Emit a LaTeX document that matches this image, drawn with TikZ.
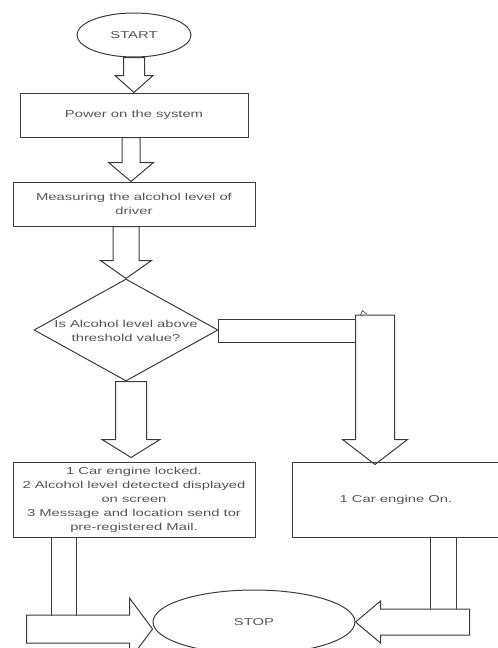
\documentclass[tikz,border=0pt]{standalone}
\usepackage{fontspec}
\setmainfont{Liberation Sans}[FakeStretch=1.48]
\usetikzlibrary{shapes.geometric,calc}
\definecolor{ln}{HTML}{3C3C3C}
\definecolor{tx}{HTML}{555555}
\tikzset{
  shp/.style={draw=ln, line width=1pt, text=tx, font=\fontsize{10}{14}\selectfont, align=center},
  boxn/.style={shp, rectangle, inner sep=0pt},
  ovaln/.style={shp, ellipse, inner sep=0pt},
  decn/.style={shp, diamond, inner sep=0pt},
  lbl/.style={text=tx, font=\fontsize{10}{14}\selectfont, align=center, inner sep=0pt},
  barrow/.style={draw=ln, line width=1pt, line join=miter},
  stem/.style={draw=ln, line width=1pt},
}
% block arrow pointing down: #1 tail point, #2 tip point, #3 shaft half width, #4 head half width, #5 head length
\newcommand{\bdown}[5]{\draw[barrow] let \p1=#1, \p2=#2 in
  (\x2-#3pt,\y1) -- (\x2-#3pt,\y2+#5pt) -- (\x2-#4pt,\y2+#5pt) -- (\x2,\y2)
  -- (\x2+#4pt,\y2+#5pt) -- (\x2+#3pt,\y2+#5pt) -- (\x2+#3pt,\y1) -- cycle;}
% block arrow pointing right
\newcommand{\bright}[5]{\draw[barrow] let \p1=#1, \p2=#2 in
  (\x1,\y2+#3pt) -- (\x2-#5pt,\y2+#3pt) -- (\x2-#5pt,\y2+#4pt) -- (\x2,\y2)
  -- (\x2-#5pt,\y2-#4pt) -- (\x2-#5pt,\y2-#3pt) -- (\x1,\y2-#3pt) -- cycle;}
% block arrow pointing left
\newcommand{\bleft}[5]{\draw[barrow] let \p1=#1, \p2=#2 in
  (\x1,\y2+#3pt) -- (\x2+#5pt,\y2+#3pt) -- (\x2+#5pt,\y2+#4pt) -- (\x2,\y2)
  -- (\x2+#5pt,\y2-#4pt) -- (\x2+#5pt,\y2-#3pt) -- (\x1,\y2-#3pt) -- cycle;}
\begin{document}
\begin{tikzpicture}[x=1pt,y=-1pt]
\useasboundingbox (0,0) rectangle (498,648);
\clip (0,0) rectangle (498,648);

\node[ovaln, minimum width=114pt, minimum height=44pt] (start) at (134,35) {START};
\node[boxn, minimum width=228pt, minimum height=44pt] (power) at (134,115) {Power on the system};
\node[boxn, minimum width=242pt, minimum height=44pt] (meas) at (134,204) {Measuring the alcohol level of\\driver};
\node[decn, minimum width=184pt, minimum height=102pt] (dec) at (126,330) {};
\node[lbl] (dectext) at ($(dec.center)+(0,1)$) {Is Alcohol level above\\threshold value?};
\node[boxn, minimum width=242pt, minimum height=75pt] (lbox) at (134,499.5)
  {1 Car engine locked.\\2 Alcohol level detected displayed\\on screen\\3 Message and location send tor\\pre-registered Mail.};
\node[boxn, minimum width=208pt, minimum height=75pt] (rbox) at (396,499.5) {1 Car engine On.};
\node[ovaln, minimum width=202pt, minimum height=64pt] (stop) at (254,622) {STOP};

\bdown{(start.south)}{(power.north)}{10.5}{19}{17}
\bdown{(power.south)}{($(meas.north)+(-3,0)$)}{9}{22.5}{19}
\bdown{(meas.south)}{(dec.north)}{13}{25.5}{18}
\bdown{(dec.south)}{($(lbox.north)+(-3,-4)$)}{15.5}{29}{18}

\draw[barrow] ($(dec.east)+(0,-11)$) rectangle ($(dec.east)+(137,12)$);
\bdown{($(dec.east)+(156.5,-15)$)}{($(rbox.north)+(-21,3)$)}{19.5}{32.5}{25}
\draw[draw=ln, line width=0.6pt] ($(dec.east)+(142,-15)$) -- ++(2,-4.5) -- ++(4,3.5);

\draw[stem] ($(lbox.south west)+(39,0)$) -- ++(0,78);
\draw[stem] ($(lbox.south west)+(64,0)$) -- ++(0,78);
\bright{($(lbox.south west)+(14,0)$)}{($(stop.west)+(0,7)$)}{14}{31}{23}

\draw[stem] ($(rbox.south west)+(139,0)$) -- ++(0,71);
\draw[stem] ($(rbox.south west)+(165,0)$) -- ++(0,71);
\bleft{($(rbox.south west)+(178,0)$)}{(stop.east)}{13}{21}{25}
\end{tikzpicture}
\end{document}
